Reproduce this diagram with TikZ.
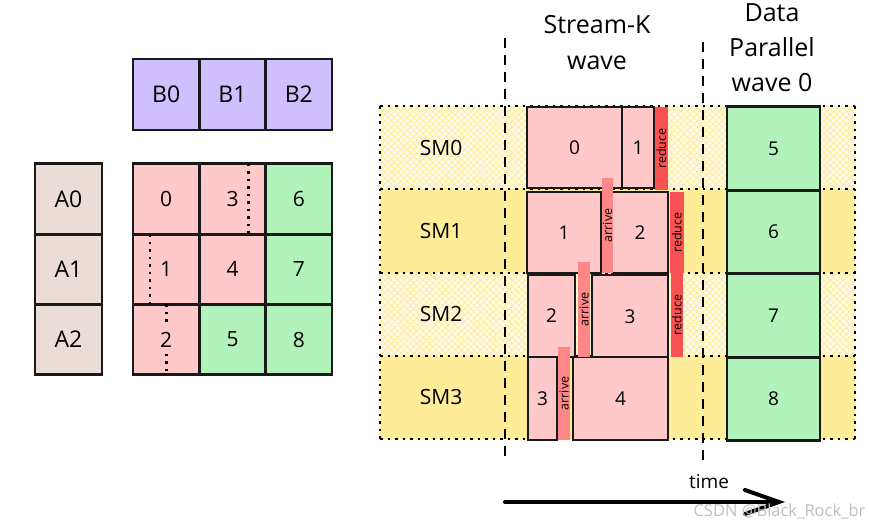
\documentclass[tikz,border=0pt]{standalone}
\usepackage{fontspec}
\setmainfont{Open Sans}
\usetikzlibrary{arrows.meta, patterns.meta, positioning}
\definecolor{pinkfill}{HTML}{FFC9C9}
\definecolor{greenfill}{HTML}{B2F2BB}
\definecolor{violetfill}{HTML}{D0BFFF}
\definecolor{bronzefill}{HTML}{EADDD7}
\definecolor{yellowfill}{HTML}{FFEC99}
\definecolor{paleyellow}{HTML}{FFFBEA}
\definecolor{reducered}{HTML}{FA5252}
\definecolor{arrivered}{HTML}{FF8787}

\tikzset{
  tile/.style={draw=black!90, line width=2.8pt, inner sep=0pt, outer sep=0pt},
  bar/.style={inner sep=0pt, outer sep=0pt, font=\fontsize{12.5}{14}\selectfont},
  rowline/.style={line width=2pt, dash pattern=on 2.5pt off 5pt},
  waveline/.style={line width=2.8pt, dash pattern=on 10pt off 7pt},
  hatch/.style={pattern={Lines[angle=#1, distance=4.5pt, line width=0.8pt]}, pattern color=yellowfill}
}

\begin{document}
\begin{tikzpicture}[x=1pt, y=-1pt]
  \useasboundingbox (0,0) rectangle (869,525);

  % A and B tiles
  \foreach \i in {0,1,2} {
    \node[tile, fill=bronzefill, minimum width=67pt, minimum height=70.3pt,
      font=\fontsize{23}{26}\selectfont] (a\i) at (68.5,{199+70.3*\i}) {A\i};
    \node[tile, fill=violetfill, minimum width=66.3pt, minimum height=71pt,
      font=\fontsize{23}{26}\selectfont] (b\i) at ({166.2+66.3*\i},94.5) {B\i};
  }

  % output tiles
  \foreach \c/\r/\lbl/\col in {0/0/0/pinkfill, 1/0/3/pinkfill, 2/0/6/greenfill,
      0/1/1/pinkfill, 1/1/4/pinkfill, 2/1/7/greenfill,
      0/2/2/pinkfill, 1/2/5/greenfill, 2/2/8/greenfill}
    \node[tile, fill=\col, minimum width=66.3pt, minimum height=70.3pt,
      font=\fontsize{21}{24}\selectfont] (c\lbl) at ({166.2+66.3*\c},{199+70.3*\r}) {\lbl};

  % split points
  \draw[rowline, line width=2.6pt] ([xshift=-17pt]c3.north east) -- ([xshift=-17pt]c3.south east);
  \draw[rowline, line width=2.6pt] ([xshift=17pt]c1.north west) -- ([xshift=17pt]c1.south west);
  \draw[rowline, line width=2.6pt] (c2.north) -- ([yshift=14pt]c2.center);
  \draw[rowline, line width=2.6pt] ([yshift=-14pt]c2.center) -- (c2.south);

  % SM rows
  \foreach \i in {0,2} {
    \fill[paleyellow] (380,{106+83.25*\i}) rectangle (855,{106+83.25*(\i+1)});
    \fill[hatch=45] (380,{106+83.25*\i}) rectangle (855,{106+83.25*(\i+1)});
    \fill[hatch=-45] (380,{106+83.25*\i}) rectangle (855,{106+83.25*(\i+1)});
  }
  \foreach \i in {1,3}
    \fill[yellowfill] (380,{106+83.25*\i}) rectangle (855,{106+83.25*(\i+1)});
  \foreach \i in {0,...,4}
    \draw[rowline] (380,{106+83.25*\i}) -- (855,{106+83.25*\i});
  \draw[rowline] (380,106) -- (380,439);
  \draw[rowline] (855,106) -- (855,439);
  \foreach \i in {0,...,3}
    \node[font=\fontsize{21}{24}\selectfont] (sm\i) at (441,{147.6+83.25*\i}) {SM\i};

  % wave borders
  \coordinate (w1top) at (505,38);
  \coordinate (w1bot) at (505,460);
  \coordinate (w2top) at (703,42);
  \coordinate (w2bot) at (703,463);
  \draw[waveline] (w1top) -- (w1bot);
  \draw[waveline] (w2top) -- (w2bot);

  % titles
  \node[align=center, font=\fontsize{25}{36}\selectfont] (sktitle) at (597,43) {Stream-K\\wave};
  \node[align=center, font=\fontsize{25}{35}\selectfont] (dptitle) at (772,48) {Data\\Parallel\\wave 0};

  % stream-k tiles
  \begin{scope}[every node/.append style={font=\fontsize{19}{22}\selectfont}]
    \node[tile, fill=pinkfill, minimum width=95pt, minimum height=81pt] (sk0) at (574.5,147.5) {0};
    \node[tile, fill=pinkfill, minimum width=32pt, minimum height=81pt] (sk1a) at (638,147.5) {1};
    \node[tile, fill=pinkfill, minimum width=74pt, minimum height=81pt] (sk1b) at (564,232.5) {1};
    \node[tile, fill=pinkfill, minimum width=56pt, minimum height=81pt] (sk2a) at (640,232.5) {2};
    \node[tile, fill=pinkfill, minimum width=47pt, minimum height=82pt] (sk2b) at (551.5,316) {2};
    \node[tile, fill=pinkfill, minimum width=76pt, minimum height=83pt] (sk3a) at (630,316.5) {3};
    \node[tile, fill=pinkfill, minimum width=29pt, minimum height=83pt] (sk3b) at (542.5,398.5) {3};
    \node[tile, fill=pinkfill, minimum width=95pt, minimum height=83pt] (sk4) at (620.5,398.5) {4};
  \end{scope}

  % reduce / arrive
  \node[bar, fill=reducered, minimum width=13pt, minimum height=83pt] (red0) at (661.5,148.5) {};
  \node[bar, rotate=90] at (red0) {reduce};
  \node[bar, fill=reducered, minimum width=14pt, minimum height=81pt] (red1) at (677,232.5) {};
  \node[bar, rotate=90] at (red1) {reduce};
  \node[bar, fill=reducered, minimum width=12pt, minimum height=84pt] (red2) at (677,315) {};
  \node[bar, rotate=90] at (red2) {reduce};
  \node[bar, fill=arrivered, minimum width=11pt, minimum height=95pt] (arr1) at (607.5,225.5) {};
  \node[bar, rotate=90] at (arr1) {arrive};
  \node[bar, fill=arrivered, minimum width=12pt, minimum height=95pt] (arr2) at (584,309.5) {};
  \node[bar, rotate=90] at (arr2) {arrive};
  \node[bar, fill=arrivered, minimum width=12pt, minimum height=93pt] (arr3) at (564,393.5) {};
  \node[bar, rotate=90] at (arr3) {arrive};

  % data parallel tiles
  \foreach \i in {0,...,3} {
    \pgfmathtruncatemacro{\tnum}{\i+5}
    \node[tile, fill=greenfill, minimum width=93pt, minimum height=83.5pt,
      font=\fontsize{19}{22}\selectfont] (dp\i) at (773.5,{148.5+83.5*\i}) {\tnum};
  }

  % time axis
  \coordinate (tstart) at (505,502);
  \coordinate (tend) at (785,502);
  \draw[line width=4pt, line cap=round, -{Straight Barb[length=34pt, width=24pt, line cap=round]}] (tstart) -- (tend);
  \node[font=\fontsize{19}{22}\selectfont] (timelbl) at (709,482) {time};

  \node[anchor=east, text=black!25, font=\fontsize{16.5}{18}\selectfont] (mark) at (869,511) {CSDN @Black\_Rock\_br};
\end{tikzpicture}
\end{document}
